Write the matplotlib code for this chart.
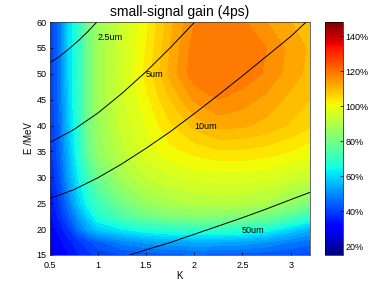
import numpy as np
import matplotlib
matplotlib.use("Agg")
import matplotlib.pyplot as plt
from matplotlib.colors import Normalize
from matplotlib.cm import ScalarMappable

plt.rcParams['font.family'] = ['Liberation Sans', 'DejaVu Sans']

# grid
k_vals = [0.5, 0.6, 0.7, 0.8, 0.9, 1.0, 1.25, 1.5, 1.75, 2.0, 2.25, 2.5, 2.75, 3.0, 3.2]
e_vals = [15, 17.5, 20, 22.5, 25, 30, 35, 40, 45, 50, 55, 60]

# small-signal gain in %, one row per energy
gain = [
    [27, 30, 33, 36, 38, 40, 42, 43, 44, 44.5, 44, 43.5, 43, 42, 41],                # 15
    [29, 32, 35, 38, 41, 44, 49, 52, 53.5, 54, 54, 53, 51, 48, 46],                  # 17.5
    [31, 34, 39, 47, 53, 58, 63, 67, 69, 70, 70, 69, 66, 60, 55],                    # 20
    [32, 37, 44, 52, 60, 67, 74, 79, 82, 83, 83, 82, 80, 75, 70],                    # 22.5
    [33, 39, 48, 58, 65, 71, 80, 86, 89, 90.5, 91, 90.5, 89, 85, 81],                # 25
    [35, 42, 53, 63, 72, 79, 88, 93, 95.5, 97, 97.5, 97.5, 97, 95, 93.5],            # 30
    [37, 44, 56, 67, 78, 85, 92, 97.5, 101, 103, 104.5, 104.5, 103.5, 102, 100],     # 35
    [38, 45, 58, 68, 80, 86, 94, 99, 104.5, 109, 112, 111.5, 110, 107.5, 105.5],     # 40
    [39, 46, 59, 69, 80, 87, 95, 101, 108, 114.5, 117, 115.5, 113, 110, 108],        # 45
    [39, 46, 60, 69, 80, 87, 95, 103, 112, 119, 120, 119, 116.5, 112.5, 110],        # 50
    [39, 46, 60, 69, 80, 87, 95, 102, 111, 118.5, 120, 119.5, 117, 113, 110.5],      # 55
    [39, 46, 60, 69, 79, 86, 94, 101, 110, 117, 118.5, 117.5, 114, 111, 109],        # 60
]

# wavelength lines (K, E)
k_25 = [0.5, 0.6, 0.7, 0.8, 0.9, 0.99]
e_25 = [52.1, 53.3, 54.8, 56.4, 58.2, 60.0]
k_5 = [0.5, 0.75, 1.0, 1.25, 1.5, 1.75, 2.0]
e_5 = [36.7, 39.2, 42.4, 46.2, 50.4, 55.0, 59.9]
k_10 = [0.5, 0.75, 1.0, 1.25, 1.5, 1.75, 2.0, 2.25, 2.5, 2.75, 3.0, 3.16]
e_10 = [25.9, 27.6, 29.9, 32.6, 35.6, 38.8, 42.3, 45.9, 49.6, 53.4, 57.2, 60.0]
k_50 = [1.33, 1.5, 1.75, 2.0, 2.25, 2.5, 2.75, 3.0, 3.2]
e_50 = [15.0, 16.0, 17.4, 19.0, 20.6, 22.2, 23.9, 25.7, 27.1]

line_labels = ["2.5um", "5um", "10um", "50um"]
label_pos = [(1.13, 57.0), (1.59, 49.9), (2.12, 39.8), (2.61, 19.8)]

cbar_ticks = [20, 40, 60, 80, 100, 120, 140]

fig = plt.figure(figsize=(3.82, 2.87), dpi=100)
ax = fig.add_axes([0.1296, 0.1115, 0.6819, 0.8118])
cax = fig.add_axes([0.851, 0.1115, 0.047, 0.8118])

norm = Normalize(vmin=15, vmax=148)
cs = ax.contourf(k_vals, e_vals, np.array(gain), levels=np.arange(15, 151, 3),
                 cmap='jet', norm=norm, antialiased=False)

for kk, ee in [(k_25, e_25), (k_5, e_5), (k_10, e_10), (k_50, e_50)]:
    ax.plot(kk, ee, color='black', linewidth=0.7)

for txt, (x, y) in zip(line_labels, label_pos):
    ax.text(x, y, txt, fontsize=6.5, ha='center', va='center')

ax.set_xlim(0.5, 3.2)
ax.set_ylim(15, 60)
ax.set_xticks([0.5, 1, 1.5, 2, 2.5, 3])
ax.set_xticklabels(["0.5", "1", "1.5", "2", "2.5", "3"])
ax.set_yticks(range(15, 61, 5))
ax.tick_params(direction='in', length=2, labelsize=6.5, width=0.5, pad=2)
ax.tick_params(axis='x', pad=4)
ax.set_xlabel("K", fontsize=7, labelpad=1)
ax.set_ylabel("E /MeV", fontsize=7, labelpad=2)
ax.set_title("small-signal gain (4ps)", fontsize=10, pad=4)
for s in ax.spines.values():
    s.set_linewidth(0.5)
    s.set_color('#333333')

cb = fig.colorbar(ScalarMappable(norm=norm, cmap='jet'), cax=cax)
cb.set_ticks(cbar_ticks)
cb.set_ticklabels([f"{t}%" for t in cbar_ticks])
cb.ax.tick_params(direction='in', length=2, labelsize=6.5, width=0.5, pad=2)
cb.outline.set_linewidth(0.5)

fig.savefig("out.png", dpi=100)
